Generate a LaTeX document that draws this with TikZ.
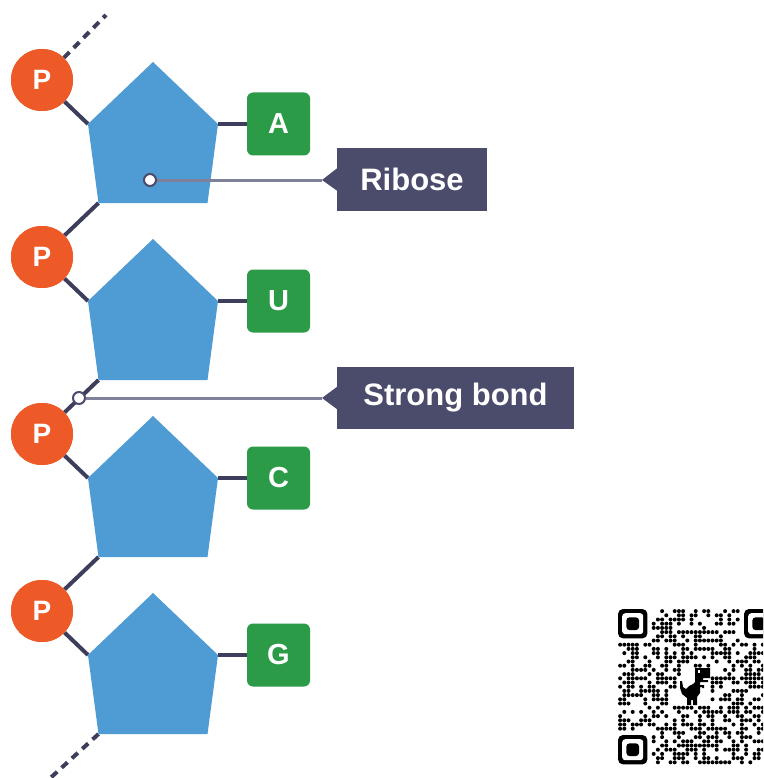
\documentclass[tikz,border=0pt]{standalone}
\usepackage{fontspec}
\setmainfont{Liberation Sans}
\definecolor{porange}{RGB}{238,89,40}
\definecolor{sugar}{RGB}{79,155,211}
\definecolor{basegreen}{RGB}{43,155,72}
\definecolor{bondc}{RGB}{60,62,92}
\definecolor{labelc}{RGB}{75,75,107}
\definecolor{leaderc}{RGB}{128,128,155}
\tikzset{
  phos/.style={circle,fill=porange,minimum size=62pt,inner sep=0pt,text=white,font=\fontsize{28}{28}\selectfont\bfseries},
  basebox/.style={rectangle,rounded corners=6pt,fill=basegreen,minimum size=63pt,inner sep=0pt,text=white,font=\fontsize{29}{29}\selectfont\bfseries},
  bond/.style={draw=bondc,line width=4pt},
  bonddash/.style={draw=bondc,line width=4pt,dash pattern=on 8pt off 6pt},
  sugarfill/.style={fill=sugar},
  labelbox/.style={rectangle,fill=labelc,minimum height=62pt,inner sep=0pt,text=white,font=\fontsize{31}{31}\selectfont\bfseries},
  leader/.style={draw=leaderc,line width=3pt},
  leaderdot/.style={circle,fill=white,draw=labelc,line width=2pt,minimum size=12pt,inner sep=0pt},
  qrdot/.style={fill=black}
}
\begin{document}
\begin{tikzpicture}[x=1pt,y=-1pt]
\useasboundingbox (0,0) rectangle (763,778);
\fill[white] (0,0) rectangle (763,778);

% coordinates of pentagon vertices
\foreach \k/\b in {1/A,2/U,3/C,4/G}{
  \pgfmathsetmacro{\t}{62+177*(\k-1)}
  \coordinate (top\k) at (153,\t);
  \coordinate (ul\k) at (88,\t+62);
  \coordinate (ur\k) at (218,\t+62);
  \coordinate (bl\k) at (98.5,\t+141);
  \coordinate (br\k) at (207.5,\t+141);
  \node[phos] (p\k) at (42,\t+18) {P};
  \node[basebox] (b\k) at (278.5,\t+62) {\b};
}
\coordinate (topend) at (106,15);
\coordinate (botend) at (46,782);

% bonds
\draw[bonddash] (p1) -- (topend);
\foreach \k in {1,2,3,4}{
  \draw[bond] (p\k) -- (ul\k);
  \draw[bond] (ur\k) -- (b\k);
}
\foreach \k/\n in {1/2,2/3,3/4}{
  \draw[bond] (bl\k) -- (p\n);
}
\draw[bonddash] (bl4) -- (botend);

% pentagons
\foreach \k in {1,2,3,4}{
  \fill[sugarfill] (top\k) -- (ur\k) -- (br\k) -- (bl\k) -- (ul\k) -- cycle;
}
% redraw phosphate circles on top
\foreach \k/\b in {1/A,2/U,3/C,4/G}{
  \pgfmathsetmacro{\t}{62+177*(\k-1)}
  \node[phos] at (42,\t+18) {P};
}

% labels
\node[labelbox,minimum width=150pt] (rib) at (412,179.5) {Ribose};
\coordinate (ribtip) at (322,180);
\fill[labelc] (ribtip) -- ([yshift=11pt]rib.west) -- ([yshift=-11pt]rib.west) -- cycle;
\node[leaderdot] (ribdot) at (150,180) {};
\draw[leader] (ribdot) -- (ribtip);

\node[labelbox,minimum width=237pt] (sb) at (455.5,398) {Strong bond};
\coordinate (sbtip) at (322,398);
\fill[labelc] (sbtip) -- ([yshift=11pt]sb.west) -- ([yshift=-11pt]sb.west) -- cycle;
\node[leaderdot] (sbdot) at (79,398) {};
\draw[leader] (sbdot) -- (sbtip);

% QR code
\begin{scope}
\clip (0,0) rectangle (763,778);
\pgfmathsetseed{4242}
\foreach \i in {0,...,36}{
  \foreach \j in {0,...,36}{
    \pgfmathrandominteger{\r}{0}{99}
    \pgfmathtruncatemacro{\skp}{(((\i<8)&&(\j<8)) || ((\i>28)&&(\j<8)) || ((\i<8)&&(\j>28)) || ((\i>14)&&(\i<22)&&(\j>13)&&(\j<23))) ? 1 : 0}
    \ifnum\skp=0
      \ifnum\r<48
        \fill[qrdot] (620.1+4.2*\i,611.1+4.2*\j) circle (2pt);
      \fi
    \fi
  }
}
\foreach \fx/\fy in {618/609,744/609,618/735}{
  \fill[black,rounded corners=5pt] (\fx,\fy) rectangle ++(29.4,29.4);
  \fill[white,rounded corners=3pt] (\fx+4.2,\fy+4.2) rectangle ++(21,21);
  \fill[black,rounded corners=3pt] (\fx+8.4,\fy+8.4) rectangle ++(12.6,12.6);
}
% dino
\begin{scope}[shift={(680,668)}]
\fill[black] (15,0) -- (30,0) -- (30,10) -- (23,10) -- (23,12) -- (28,12) -- (28,14) -- (20,14) -- (20,17) -- (24,17) -- (24,20) -- (22,20) -- (22,19) -- (20,19) -- (20,25) -- (17,29) -- (17,37) -- (13,37) -- (13,32) -- (11,32) -- (11,37) -- (7,37) -- (7,30) -- (2,26) -- (0,20) -- (0,13) -- (2,13) -- (3,19) -- (6,21) -- (9,18) -- (13,16) -- (15,14) -- cycle;
\fill[white] (17.5,2) rectangle (20,4.5);
\end{scope}
\end{scope}
\end{tikzpicture}
\end{document}
